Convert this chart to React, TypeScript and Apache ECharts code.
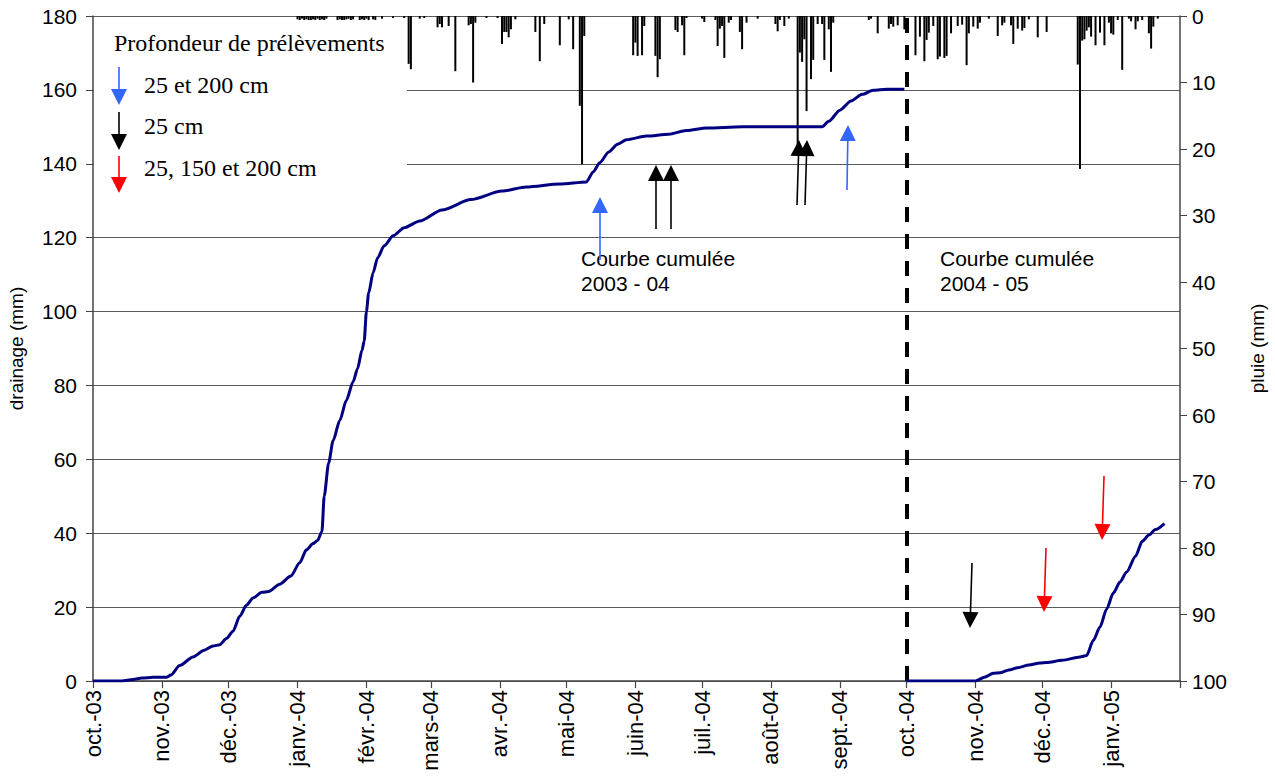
import React, { useEffect, useRef } from "react";
import * as echarts from "echarts";

// Daily time axis: 1 Oct 2003 -> 1 Feb 2005
const AXIS_START = "2003-10-01";
const AXIS_END = "2005-02-01";

const monthStarts = [
  "2003-10-01", "2003-11-01", "2003-12-01", "2004-01-01", "2004-02-01", "2004-03-01",
  "2004-04-01", "2004-05-01", "2004-06-01", "2004-07-01", "2004-08-01", "2004-09-01",
  "2004-10-01", "2004-11-01", "2004-12-01", "2005-01-01",
];
const monthLabels = [
  "oct.-03", "nov.-03", "déc.-03", "janv.-04", "févr.-04", "mars-04",
  "avr.-04", "mai-04", "juin-04", "juil.-04", "août-04", "sept.-04",
  "oct.-04", "nov.-04", "déc.-04", "janv.-05",
];

// Cumulative drainage 2003-04 (mm)
const drainDates0304 = [
  "2003-10-01", "2003-10-14", "2003-10-19", "2003-10-23", "2003-10-28", "2003-11-03",
  "2003-11-05", "2003-11-09", "2003-11-15", "2003-11-20", "2003-11-24", "2003-11-27",
  "2003-11-30", "2003-12-03", "2003-12-06", "2003-12-09", "2003-12-12", "2003-12-16",
  "2003-12-19", "2003-12-24", "2003-12-29", "2004-01-02", "2004-01-05", "2004-01-08",
  "2004-01-10", "2004-01-12", "2004-01-13", "2004-01-15", "2004-01-17", "2004-01-20",
  "2004-01-23", "2004-01-26", "2004-01-28", "2004-01-30", "2004-01-31", "2004-02-01",
  "2004-02-02", "2004-02-04", "2004-02-06", "2004-02-09", "2004-02-13", "2004-02-18",
  "2004-02-25", "2004-03-06", "2004-03-19", "2004-04-02", "2004-04-13", "2004-04-28",
  "2004-05-10", "2004-05-13", "2004-05-16", "2004-05-20", "2004-05-24", "2004-05-28",
  "2004-06-06", "2004-06-16", "2004-06-24", "2004-07-03", "2004-07-19", "2004-08-24",
  "2004-08-27", "2004-09-01", "2004-09-06", "2004-09-11", "2004-09-16", "2004-09-22",
  "2004-09-30",
];
const drain0304 = [
  0, 0, 0.4, 0.8, 1.0, 1.0,
  1.6, 4.2, 6.5, 8.3, 9.5, 9.8,
  11.5, 13.5, 17.5, 20.5, 22.5, 24,
  24.2, 26.2, 28.4, 32, 35.5, 37.2,
  38, 40.5, 50, 59, 65, 70.5,
  76, 81, 84.5, 89.5, 92, 100,
  105, 110.5, 114.5, 117.8, 120.5, 122.7,
  124.5, 127.5, 130.3, 132.6, 133.7, 134.5,
  135.1, 137.8, 140.3, 143.2, 145.3, 146.5,
  147.5, 148, 149, 149.7, 150, 150,
  151.5, 154.5, 157, 158.8, 159.9, 160.2,
  160.2,
];

// Cumulative drainage 2004-05 (mm)
const drainDates0405 = [
  "2004-10-01", "2004-11-01", "2004-11-05", "2004-11-09", "2004-11-12", "2004-11-16",
  "2004-11-20", "2004-11-25", "2004-11-30", "2004-12-03", "2004-12-10", "2004-12-18",
  "2004-12-21", "2004-12-24", "2004-12-27", "2004-12-30", "2005-01-02", "2005-01-05",
  "2005-01-08", "2005-01-12", "2005-01-15", "2005-01-18", "2005-01-21", "2005-01-25",
];
const drain0405 = [
  0, 0, 1.0, 2.1, 2.2, 3.0,
  3.6, 4.3, 4.9, 5.0, 5.6, 6.5,
  6.9, 11, 14.6, 19.5, 23.8, 26.8,
  29.5, 33.8, 37.8, 39.5, 41, 42.6,
];

// Daily rainfall (mm)
const rainDays = [
  "2004-01-01", "2004-01-02", "2004-01-03", "2004-01-04", "2004-01-05", "2004-01-06",
  "2004-01-07", "2004-01-08", "2004-01-09", "2004-01-10", "2004-01-11", "2004-01-12",
  "2004-01-13", "2004-01-14", "2004-01-19", "2004-01-20", "2004-01-21", "2004-01-22",
  "2004-01-23", "2004-01-24", "2004-01-25", "2004-01-26", "2004-01-29", "2004-01-30",
  "2004-01-31", "2004-02-01", "2004-02-02", "2004-02-04", "2004-02-05", "2004-02-08",
  "2004-02-13", "2004-02-18", "2004-02-20", "2004-02-21", "2004-02-25", "2004-02-27",
  "2004-03-04", "2004-03-05", "2004-03-06", "2004-03-09", "2004-03-12", "2004-03-18",
  "2004-03-19", "2004-03-20", "2004-03-21", "2004-03-26", "2004-03-31", "2004-04-02",
  "2004-04-03", "2004-04-04", "2004-04-05", "2004-04-06", "2004-04-08", "2004-04-17",
  "2004-04-19", "2004-04-21", "2004-04-28", "2004-05-02", "2004-05-04", "2004-05-07",
  "2004-05-08", "2004-05-09", "2004-05-31", "2004-06-01", "2004-06-02", "2004-06-04",
  "2004-06-05", "2004-06-10", "2004-06-11", "2004-06-12", "2004-06-19", "2004-06-20",
  "2004-06-22", "2004-06-23", "2004-06-24", "2004-07-01", "2004-07-02", "2004-07-07",
  "2004-07-08", "2004-07-09", "2004-07-10", "2004-07-11", "2004-07-13", "2004-07-14",
  "2004-07-18", "2004-07-19", "2004-07-21", "2004-07-26", "2004-08-03", "2004-08-04",
  "2004-08-05", "2004-08-07", "2004-08-09", "2004-08-13", "2004-08-14", "2004-08-15",
  "2004-08-16", "2004-08-17", "2004-08-19", "2004-08-20", "2004-08-22", "2004-08-24",
  "2004-08-25", "2004-08-27", "2004-08-28", "2004-08-29", "2004-09-14", "2004-09-15",
  "2004-09-18", "2004-09-23", "2004-09-24", "2004-09-25", "2004-09-27", "2004-09-30",
  "2004-10-05", "2004-10-07", "2004-10-09", "2004-10-10", "2004-10-11", "2004-10-13",
  "2004-10-15", "2004-10-16", "2004-10-18", "2004-10-19", "2004-10-21", "2004-10-24",
  "2004-10-26", "2004-10-28", "2004-10-29", "2004-10-31", "2004-11-02", "2004-11-03",
  "2004-11-07", "2004-11-11", "2004-11-13", "2004-11-14", "2004-11-17", "2004-11-18",
  "2004-11-20", "2004-11-22", "2004-11-23", "2004-11-25", "2004-11-29", "2004-12-03",
  "2004-12-17", "2004-12-18", "2004-12-19", "2004-12-20", "2004-12-21", "2004-12-22",
  "2004-12-23", "2004-12-25", "2004-12-27", "2004-12-29", "2004-12-31", "2005-01-01",
  "2005-01-02", "2005-01-04", "2005-01-06", "2005-01-09", "2005-01-10", "2005-01-12",
  "2005-01-13", "2005-01-15", "2005-01-18", "2005-01-19", "2005-01-20", "2005-01-22",
];
const rainMm = [
  0.5, 0.6, 0.4, 0.6, 0.5, 0.6,
  0.6, 0.5, 0.6, 0.4, 0.6, 0.5,
  0.6, 0.4, 0.6, 0.5, 0.6, 0.6,
  0.5, 0.4, 0.6, 0.5, 0.6, 0.5,
  0.6, 0.4, 0.6, 0.5, 0.6, 0.4,
  0.3, 0.3, 7.2, 8.0, 0.4, 0.3,
  1.7, 1.2, 1.7, 1.5, 8.3, 1.4,
  1.2, 10.0, 1.0, 0.3, 0.3, 4.2,
  2.4, 2.4, 3.2, 2.0, 0.5, 2.4,
  6.8, 1.2, 4.4, 0.5, 5.0, 13.5,
  22.3, 3.0, 5.9, 4.0, 6.0, 5.9,
  1.5, 6.0, 9.2, 6.5, 2.1, 2.4,
  1.4, 5.9, 0.3, 0.4, 0.9, 0.6,
  4.5, 1.9, 1.5, 6.3, 1.0, 0.6,
  2.4, 5.0, 1.0, 0.4, 1.2, 2.3,
  0.6, 1.5, 0.4, 20.0, 5.5, 6.9,
  3.5, 14.3, 9.5, 6.6, 1.2, 1.2,
  6.6, 2.0, 8.4, 1.0, 0.6, 0.4,
  2.6, 1.9, 1.2, 1.6, 1.4, 2.0,
  5.9, 3.1, 6.8, 3.6, 2.5, 1.5,
  6.5, 6.1, 6.3, 6.0, 2.6, 1.5,
  1.3, 7.4, 2.6, 1.6, 1.9, 1.0,
  0.4, 3.0, 1.4, 1.0, 1.4, 4.2,
  1.9, 2.2, 1.8, 0.5, 3.2, 2.4,
  7.3, 23.0, 3.7, 3.5, 2.2, 1.7,
  3.1, 4.4, 2.5, 4.4, 1.0, 2.6,
  2.8, 0.6, 8.1, 0.4, 0.8, 2.0,
  0.8, 0.6, 2.6, 4.9, 1.6, 0.4,
];

const SANS = '"Liberation Sans", Arial, sans-serif';
const SERIF = '"Liberation Serif", "Times New Roman", serif';
const NAVY = "#000080";
const BLUE = "#3366ff";
const RED = "#ff0000";
const BLACK = "#000000";

function buildDays(from: string, to: string): string[] {
  const out: string[] = [];
  let t = Date.parse(from + "T00:00:00Z");
  const end = Date.parse(to + "T00:00:00Z");
  while (t <= end) {
    out.push(new Date(t).toISOString().slice(0, 10));
    t += 86400000;
  }
  return out;
}

// Sampling-depth arrows: tail (x1, y1) -> tip (x2, y2), pixel space
const arrows: { x1: number; y1: number; x2: number; y2: number; color: string }[] = [
  { x1: 119, y1: 67, x2: 119, y2: 105, color: BLUE },
  { x1: 119, y1: 112, x2: 119, y2: 150, color: BLACK },
  { x1: 119, y1: 156, x2: 119, y2: 193, color: RED },
  { x1: 600, y1: 260, x2: 600, y2: 197, color: BLUE },
  { x1: 656, y1: 229, x2: 656, y2: 165, color: BLACK },
  { x1: 671, y1: 229, x2: 671, y2: 165, color: BLACK },
  { x1: 797, y1: 205, x2: 799, y2: 140, color: BLACK },
  { x1: 805, y1: 205, x2: 807, y2: 140, color: BLACK },
  { x1: 847, y1: 190, x2: 848, y2: 125, color: BLUE },
  { x1: 972, y1: 563, x2: 970, y2: 628, color: BLACK },
  { x1: 1046, y1: 548, x2: 1044, y2: 612, color: RED },
  { x1: 1104, y1: 476, x2: 1102, y2: 540, color: RED },
];

function arrowShapes(a: { x1: number; y1: number; x2: number; y2: number; color: string }) {
  const dx = a.x2 - a.x1;
  const dy = a.y2 - a.y1;
  const len = Math.hypot(dx, dy);
  const ux = dx / len;
  const uy = dy / len;
  const headLen = 16;
  const headHalf = 8;
  const bx = a.x2 - ux * headLen;
  const by = a.y2 - uy * headLen;
  return [
    {
      type: "line",
      z: 100,
      shape: { x1: a.x1, y1: a.y1, x2: bx, y2: by },
      style: { stroke: a.color, lineWidth: 1.6 },
    },
    {
      type: "polygon",
      z: 100,
      shape: {
        points: [
          [a.x2, a.y2],
          [bx - uy * headHalf, by + ux * headHalf],
          [bx + uy * headHalf, by - ux * headHalf],
        ],
      },
      style: { fill: a.color },
    },
  ];
}

export default function App() {
  const ref = useRef<HTMLDivElement>(null);

  useEffect(() => {
    document.body.style.margin = "0";
    if (!ref.current) return;
    const chart = echarts.init(ref.current, undefined, { renderer: "svg" });

    const days = buildDays(AXIS_START, AXIS_END);
    const dayIndex: Record<string, number> = {};
    days.forEach((d, i) => (dayIndex[d] = i));
    const labelOf: Record<string, string> = {};
    monthStarts.forEach((d, i) => (labelOf[d] = monthLabels[i]));

    const pairs = (dates: string[], vals: number[]) =>
      dates.map((d, i) => [dayIndex[d], vals[i]]);

    const lineStyleBase = {
      type: "line",
      yAxisIndex: 0,
      showSymbol: false,
      symbol: "none",
      smooth: 0.25,
      smoothMonotone: "x",
      lineStyle: { color: NAVY, width: 3 },
      z: 5,
    };

    const legendFont = `24px ${SERIF}`;
    const graphics: any[] = [
      // legend box
      {
        type: "rect",
        z: 90,
        shape: { x: 94, y: 21, width: 313, height: 178 },
        style: { fill: "#ffffff" },
      },
      {
        type: "text",
        z: 100,
        x: 114,
        y: 43,
        style: { text: "Profondeur de prélèvements", font: legendFont, fill: BLACK, verticalAlign: "middle" },
      },
      {
        type: "text",
        z: 100,
        x: 144,
        y: 85,
        style: { text: "25 et 200 cm", font: legendFont, fill: BLACK, verticalAlign: "middle" },
      },
      {
        type: "text",
        z: 100,
        x: 144,
        y: 126,
        style: { text: "25 cm", font: legendFont, fill: BLACK, verticalAlign: "middle" },
      },
      {
        type: "text",
        z: 100,
        x: 144,
        y: 168,
        style: { text: "25, 150 et 200 cm", font: legendFont, fill: BLACK, verticalAlign: "middle" },
      },
      {
        type: "text",
        z: 100,
        x: 581,
        y: 246,
        style: {
          text: "Courbe cumulée\n2003 - 04",
          font: `21px ${SANS}`,
          lineHeight: 25,
          fill: BLACK,
          verticalAlign: "top",
        },
      },
      {
        type: "text",
        z: 100,
        x: 940,
        y: 246,
        style: {
          text: "Courbe cumulée\n2004 - 05",
          font: `21px ${SANS}`,
          lineHeight: 25,
          fill: BLACK,
          verticalAlign: "top",
        },
      },
    ];
    arrows.forEach((a) => graphics.push(...arrowShapes(a)));

    chart.setOption({
      animation: false,
      backgroundColor: "#ffffff",
      grid: {
        left: 93,
        right: 95,
        top: 16,
        bottom: 97,
        containLabel: false,
        outerBoundsMode: "none",
      },
      xAxis: {
        type: "category",
        data: days,
        boundaryGap: false,
        axisLine: { lineStyle: { color: "#444", width: 1.5 } },
        axisTick: {
          interval: (_i: number, v: string) => v.endsWith("-01"),
          length: 7,
          lineStyle: { color: "#444", width: 1.2 },
        },
        axisLabel: {
          interval: (_i: number, v: string) => labelOf[v] !== undefined,
          formatter: (v: string) => labelOf[v] ?? "",
          rotate: 90,
          margin: 9,
          fontSize: 22,
          fontFamily: SANS,
          color: BLACK,
        },
        splitLine: { show: false },
      },
      yAxis: [
        {
          type: "value",
          min: 0,
          max: 180,
          interval: 20,
          name: "drainage (mm)",
          nameLocation: "middle",
          nameRotate: 90,
          nameGap: 67,
          nameTextStyle: { fontSize: 19, fontFamily: SANS, color: BLACK },
          axisLine: { show: true, lineStyle: { color: "#444", width: 1.5 } },
          axisTick: { show: true, length: 7, lineStyle: { color: "#444" } },
          axisLabel: { fontSize: 21, fontFamily: SANS, color: BLACK, margin: 16 },
          splitLine: { show: true, lineStyle: { color: "#5a5a5a", width: 1 } },
        },
        {
          type: "value",
          min: 0,
          max: 100,
          interval: 10,
          inverse: true,
          position: "right",
          name: "pluie (mm)",
          nameLocation: "middle",
          nameRotate: 90,
          nameGap: 68,
          nameTextStyle: { fontSize: 19, fontFamily: SANS, color: BLACK },
          axisLine: { show: true, lineStyle: { color: "#444", width: 1.5 } },
          axisTick: { show: true, length: 7, lineStyle: { color: "#444" } },
          axisLabel: { fontSize: 21, fontFamily: SANS, color: BLACK, margin: 12 },
          splitLine: { show: false },
        },
      ],
      series: [
        {
          name: "pluie",
          type: "bar",
          yAxisIndex: 1,
          barWidth: 2,
          itemStyle: { color: BLACK },
          data: pairs(rainDays, rainMm),
          z: 3,
        },
        {
          ...lineStyleBase,
          name: "Courbe cumulée 2003 - 04",
          data: pairs(drainDates0304, drain0304),
        },
        {
          ...lineStyleBase,
          name: "Courbe cumulée 2004 - 05",
          data: pairs(drainDates0405, drain0405),
          markLine: {
            silent: true,
            symbol: "none",
            label: { show: false },
            lineStyle: { color: BLACK, width: 4, type: [15, 12] },
            data: [{ xAxis: dayIndex["2004-10-01"] }],
          },
        },
      ],
      graphic: graphics,
    });

    return () => chart.dispose();
  }, []);

  return <div ref={ref} style={{ width: 1275, height: 778 }} />;
}
